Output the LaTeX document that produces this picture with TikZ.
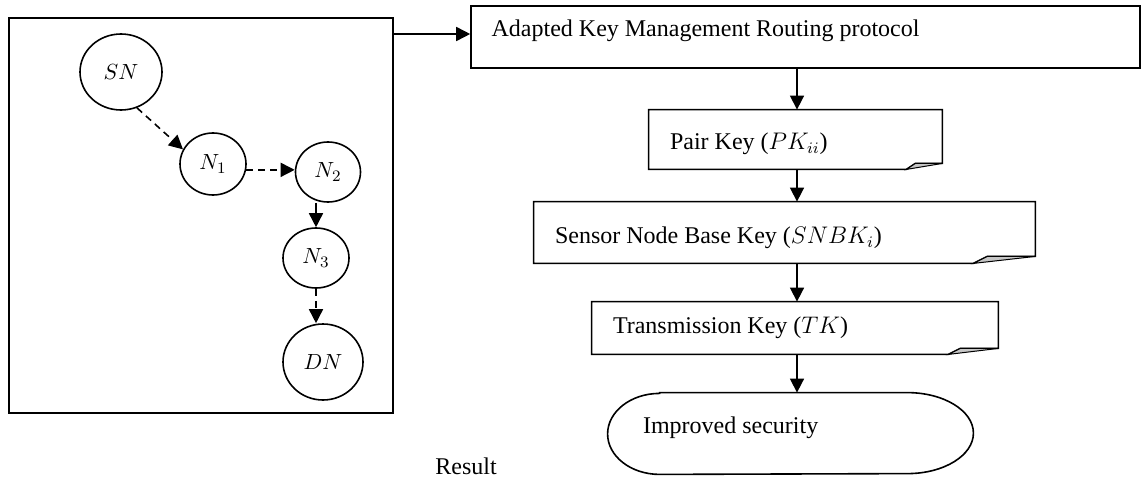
\documentclass[tikz,border=0pt]{standalone}
\usepackage{amsmath}
\usepackage{fontspec}
\setmainfont{Liberation Serif}
\usepackage{tikz}
\usetikzlibrary{arrows.meta,shapes.geometric,positioning}
\tikzstyle{nodo}=[draw,ellipse,inner sep=0pt,line width=0.8pt,font=\fontsize{11}{13}\selectfont]
\tikzstyle{caja}=[draw=none,rectangle,inner sep=0pt]
\tikzstyle{texto}=[inner sep=0pt,anchor=west,font=\fontsize{12}{14}\selectfont]
\tikzstyle{flecha}=[line width=0.8pt,-{Triangle[length=7pt,width=7pt]}]
\tikzstyle{punteada}=[flecha,dash pattern=on 3.5pt off 2.5pt]
% folded-corner box: name, curl start, curl tip (from the right), rise
\newcommand{\foldbox}[4]{%
    \draw [line width=0.8pt] (#1.north west) -- (#1.north east) -- ([yshift=#4]#1.south east)
        -- ([xshift=-#3,yshift=#4]#1.south east) -- ([xshift=-#2]#1.south east) -- (#1.south west) -- cycle;
    \filldraw [fill=gray!45,line width=0.5pt] ([xshift=-#2]#1.south east) -- ([xshift=-#3,yshift=#4]#1.south east)
        -- ([yshift=#4]#1.south east) -- cycle;}

\begin{document}
\begin{tikzpicture}[x=0.5pt,y=-0.5pt]
    \useasboundingbox (0,0) rectangle (1143,481);
    % network
    \node [caja,draw,line width=1pt,minimum width=192pt,minimum height=197.5pt] (net) at (201,215.5) {};
    \node [nodo,minimum width=41pt,minimum height=38pt] (SN) at (121,72) {$SN$};
    \node [nodo,minimum width=33pt,minimum height=31pt] (N1) at (213,164) {$N_1$};
    \node [nodo,minimum width=32.5pt,minimum height=30pt] (N2) at (328,172) {$N_2$};
    \node [nodo,minimum width=33pt,minimum height=30pt] (N3) at (316,258) {$N_3$};
    \node [nodo,minimum width=40pt,minimum height=38pt] (DN) at (323,362) {$DN$};
    \draw [punteada] (SN.294) -- (N1.154);
    \draw [punteada] (N1.-10) -- (N2.west |- N1.-10);
    \draw [flecha] (N3.north |- N2.south) -- (N3.north);
    \draw [punteada] (N3.south) -- (N3.south |- DN.north);
    % flow chart
    \node [caja,draw,line width=0.8pt,minimum width=334.5pt,minimum height=31pt] (akm) at (805.5,37) {};
    \node [caja,minimum width=146.5pt,minimum height=29.5pt] (pk) at (795.5,139.5) {};
    \node [caja,minimum width=250.5pt,minimum height=30.5pt] (snbk) at (784.5,232.5) {};
    \node [caja,minimum width=203pt,minimum height=26pt] (tk) at (795,328) {};
    \node [caja,minimum width=182.5pt,minimum height=40.5pt] (imp) at (790.5,433.5) {};
    \foldbox{pk}{18pt}{13.5pt}{3pt}
    \foldbox{snbk}{31pt}{24pt}{3.5pt}
    \foldbox{tk}{25pt}{19pt}{3pt}
    \draw [line width=0.8pt] ([xshift=26pt]imp.north west) -- ([xshift=-33pt]imp.north east)
        arc [start angle=90,end angle=-90,x radius=33pt,y radius=20.25pt]
        -- ([xshift=26pt]imp.south west)
        arc [start angle=270,end angle=90,x radius=26pt,y radius=20.25pt] -- cycle;
    \node [texto] (akmtxt) at ([xshift=10.5pt,yshift=3pt]akm.west) {Adapted Key Management Routing protocol};
    \node [texto] (pktxt) at ([xshift=10.5pt,yshift=-2.25pt]pk.west) {Pair Key ($PK_{ii}$)};
    \node [texto] (snbktxt) at ([xshift=10.5pt,yshift=-2.75pt]snbk.west) {Sensor Node Base Key ($SNBK_i$)};
    \node [texto] (tktxt) at ([xshift=10.5pt]tk.west) {Transmission Key ($TK$)};
    \node [texto] (imptxt) at ([xshift=17.5pt,yshift=2.75pt]imp.west) {Improved security};
    \coordinate (col) at (797,0);
    \draw [flecha] ([yshift=1.5pt]net.east |- akm.west) -- ([yshift=1.5pt]akm.west);
    \draw [flecha] (akm.south -| col) -- (pk.north -| col);
    \draw [flecha] (pk.south -| col) -- (snbk.north -| col);
    \draw [flecha] (snbk.south -| col) -- (tk.north -| col);
    \draw [flecha] (tk.south -| col) -- (imp.north -| col);
    \node [texto,anchor=center] (res) at (466,466) {Result};
\end{tikzpicture}
\end{document}
